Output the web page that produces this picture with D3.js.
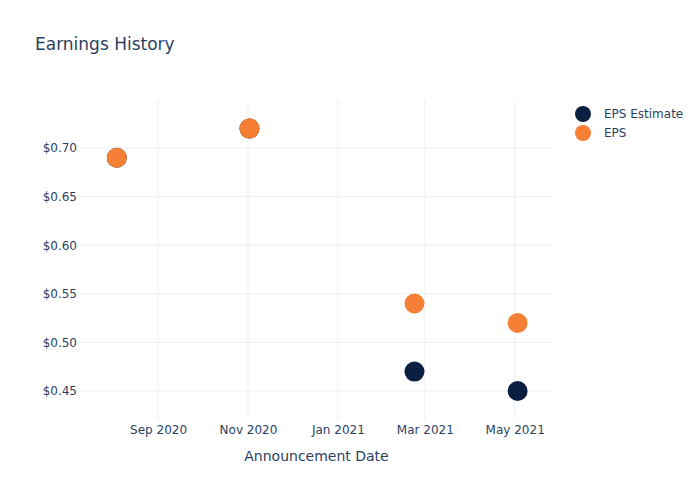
<!DOCTYPE html>
<html>
<head>
<meta charset="utf-8">
<script src="https://cdn.jsdelivr.net/npm/d3@7"></script>
<style>
  body { margin: 0; background: #fff; }
  svg text { font-family: "DejaVu Sans", Verdana, sans-serif; fill: #2a3f5f; }
</style>
</head>
<body>
<div id="chart"></div>
<script>
// data
var dates = ["2020-08-04", "2020-11-02", "2021-02-22", "2021-05-03"];
var epsEstimate = [0.69, 0.72, 0.47, 0.45];
var eps = [0.69, 0.72, 0.54, 0.52];
var xTicks = ["2020-09-01", "2020-11-01", "2021-01-01", "2021-03-01", "2021-05-01"];
var yTicks = [0.45, 0.50, 0.55, 0.60, 0.65, 0.70];
var seriesNames = ["EPS Estimate", "EPS"];
var seriesColors = ["#0b1f42", "#f58035"];

var svgWidth = 700, svgHeight = 500;
var margin = {top: 100, right: 147, bottom: 80, left: 80},
    width = svgWidth - margin.left - margin.right,
    height = svgHeight - margin.top - margin.bottom;

var parse = d3.timeParse("%Y-%m-%d");
var formatTick = d3.timeFormat("%b %Y");
var formatDollar = function(d) { return "$" + d3.format(".2f")(d); };

var svg = d3.select("#chart").append("svg")
    .attr("width", svgWidth)
    .attr("height", svgHeight);

svg.append("text")
    .attr("x", 35)
    .attr("y", 50)
    .style("font-size", "17px")
    .text("Earnings History");

var g = svg.append("g")
    .attr("transform", "translate(" + margin.left + "," + margin.top + ")");

var x = d3.scaleTime()
    .domain([parse("2020-07-10"), parse("2021-05-27")])
    .range([0, width]);

var y = d3.scaleLinear()
    .domain([0.4202, 0.7494])
    .range([height, 0]);

// grid
g.append("g").selectAll("line")
    .data(xTicks.map(parse))
    .enter().append("line")
    .attr("x1", function(d) { return x(d); })
    .attr("x2", function(d) { return x(d); })
    .attr("y1", 0)
    .attr("y2", height)
    .attr("stroke", "#ebf0f8");

g.append("g").selectAll("line")
    .data(yTicks)
    .enter().append("line")
    .attr("x1", 0)
    .attr("x2", width)
    .attr("y1", function(d) { return y(d); })
    .attr("y2", function(d) { return y(d); })
    .attr("stroke", "#ebf0f8");

var xAxis = d3.axisBottom(x)
    .tickValues(xTicks.map(parse))
    .tickFormat(formatTick)
    .tickSize(0)
    .tickPadding(5);

var yAxis = d3.axisLeft(y)
    .tickValues(yTicks)
    .tickFormat(formatDollar)
    .tickSize(0)
    .tickPadding(3);

g.append("g")
    .attr("transform", "translate(0," + height + ")")
    .call(xAxis)
    .call(function(a) { a.select(".domain").remove(); })
    .selectAll("text")
    .style("font-size", "12px")
    .attr("fill", "#2a3f5f");

g.append("g")
    .call(yAxis)
    .call(function(a) { a.select(".domain").remove(); })
    .selectAll("text")
    .style("font-size", "12px")
    .attr("fill", "#2a3f5f");

svg.append("text")
    .attr("x", margin.left + width / 2)
    .attr("y", 461)
    .attr("text-anchor", "middle")
    .style("font-size", "14px")
    .text("Announcement Date");

// points
var series = [epsEstimate, eps];
series.forEach(function(vals, s) {
    g.append("g").selectAll("circle")
        .data(vals)
        .enter().append("circle")
        .attr("cx", function(d, i) { return x(parse(dates[i])); })
        .attr("cy", function(d) { return y(d); })
        .attr("r", 10)
        .attr("fill", seriesColors[s]);
});

// legend
var legend = svg.append("g")
    .attr("transform", "translate(583,114)");

legend.selectAll("circle")
    .data(seriesNames)
    .enter().append("circle")
    .attr("cx", 0)
    .attr("cy", function(d, i) { return i * 19; })
    .attr("r", 8)
    .attr("fill", function(d, i) { return seriesColors[i]; });

legend.selectAll("text")
    .data(seriesNames)
    .enter().append("text")
    .attr("x", 21)
    .attr("y", function(d, i) { return i * 19; })
    .attr("dy", "0.35em")
    .style("font-size", "12px")
    .text(function(d) { return d; });
</script>
</body>
</html>
